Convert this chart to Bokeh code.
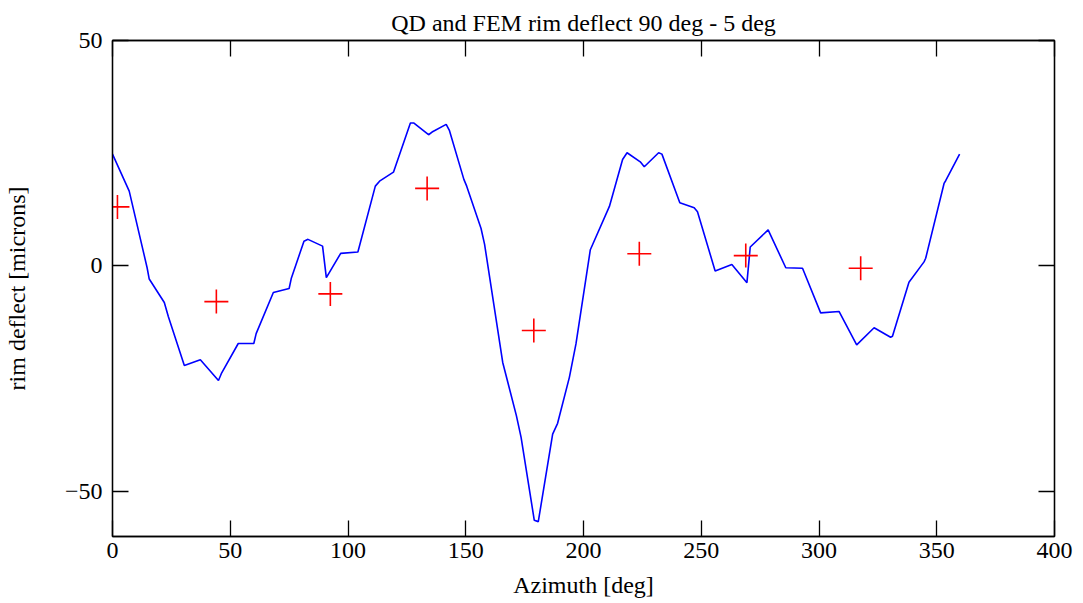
from bokeh.plotting import figure
from bokeh.models import Range1d, LinearAxis, FixedTicker
from bokeh.embed import file_html
from bokeh.resources import INLINE

# FEM rim deflection (blue line)
fem_az = [0, 7.1, 14.7, 15.6, 22, 23.7, 30.5, 37.3, 45, 46.2, 53.4, 60, 61, 68.3,
          75, 75.9, 81.3, 83, 89.2, 90.8, 96.9, 104.2, 111.6, 113.4, 119.3, 126.5,
          128, 134.2, 135.7, 141.7, 143.1, 149.2, 150.4, 156.5, 158, 165.7, 171.5,
          173.5, 179.1, 180.8, 186.9, 189, 194, 196.8, 202.9, 211, 216.6, 218.5,
          224.1, 225.8, 231.9, 233.3, 240.9, 247, 248.4, 255.9, 263, 269.4, 270.8,
          278.4, 285.9, 293, 300.7, 308.5, 316, 323.4, 330.4, 331.2, 338.2, 344.6,
          345.3, 353.1, 353.8, 359.7]
fem_defl = [24.8, 16.6, -0.4, -2.9, -8.1, -11.2, -22.1, -20.8, -25.4, -23.9, -17.2,
            -17.2, -15, -5.9, -5, -2.8, 5.5, 5.9, 4.4, -2.6, 2.8, 3.1, 17.7, 18.8,
            20.8, 31.7, 31.7, 29.1, 29.7, 31.4, 30, 19.2, 17.7, 8.3, 4.8, -21.4,
            -33.2, -38, -56.4, -56.7, -37.3, -34.9, -24.7, -17.3, 3.6, 13.2, 23.6,
            25.1, 23.1, 22, 25.1, 24.8, 14, 12.9, 12, -1.1, 0.3, -3.7, 4.2, 8, -0.4,
            -0.5, -10.4, -10.1, -17.5, -13.7, -15.8, -15.6, -3.6, 0.9, 1.7, 18.3,
            18.9, 24.8]

# QD rim deflection (red crosses)
qd_az = [2.1, 44.1, 92.5, 133.6, 178.9, 223.7, 268.9, 317.7]
qd_defl = [13.1, -7.9, -6.2, 17.2, -14.3, 2.7, 2.3, -0.5]

x_ticks = [0, 50, 100, 150, 200, 250, 300, 350, 400]
y_ticks = [-50, 0, 50]
y_tick_labels = {-50: "\u221250", 0: "0", 50: "50"}

FONT = "Liberation Serif"
FS = "24px"

p = figure(width=1083, height=603, output_backend="svg", toolbar_location=None,
           x_range=Range1d(0, 400), y_range=Range1d(-60, 50),
           min_border_left=111, min_border_right=29, min_border_top=40,
           min_border_bottom=67, title="QD and FEM rim deflect 90 deg - 5 deg")

p.title.align = "center"
p.title.text_font = FONT
p.title.text_font_size = FS
p.title.text_font_style = "normal"
p.title.text_color = "black"
p.title.standoff = 10

p.xgrid.visible = False
p.ygrid.visible = False
p.outline_line_color = "black"
p.outline_line_width = 1.3
p.background_fill_color = "white"
p.border_fill_color = "white"

def style(ax, ticks, labels=True):
    ax.ticker = FixedTicker(ticks=ticks)
    ax.major_tick_in = 16
    ax.major_tick_out = 0
    ax.minor_tick_line_color = None
    ax.axis_line_color = "black"
    ax.axis_line_width = 1.3
    ax.major_tick_line_color = "black"
    ax.major_tick_line_width = 1.3
    ax.major_label_text_font = FONT
    ax.major_label_text_font_size = FS
    ax.major_label_text_color = "black"
    ax.axis_label_text_font = FONT
    ax.axis_label_text_font_size = FS
    ax.axis_label_text_font_style = "normal"
    ax.axis_label_text_color = "black"
    if not labels:
        ax.major_label_text_color = None
        ax.major_label_text_font_size = "1px"
        ax.major_label_standoff = 0

style(p.xaxis[0], x_ticks)
p.xaxis[0].axis_label = "Azimuth [deg]"
p.xaxis[0].major_label_standoff = 6
p.xaxis[0].axis_label_standoff = 11

style(p.yaxis[0], y_ticks)
p.yaxis[0].axis_label = "rim deflect [microns]"
p.yaxis[0].major_label_overrides = y_tick_labels
p.yaxis[0].major_label_standoff = 10
p.yaxis[0].axis_label_standoff = 32

top = LinearAxis()
style(top, x_ticks, labels=False)
p.add_layout(top, "above")
right = LinearAxis()
style(right, y_ticks, labels=False)
p.add_layout(right, "right")

p.line(fem_az, fem_defl, line_color="#0000ff", line_width=1.6)
p.scatter(qd_az, qd_defl, marker="cross", size=24, line_color="#ff0000",
          line_width=1.6)

open("out.html", "w").write(file_html(p, INLINE))
